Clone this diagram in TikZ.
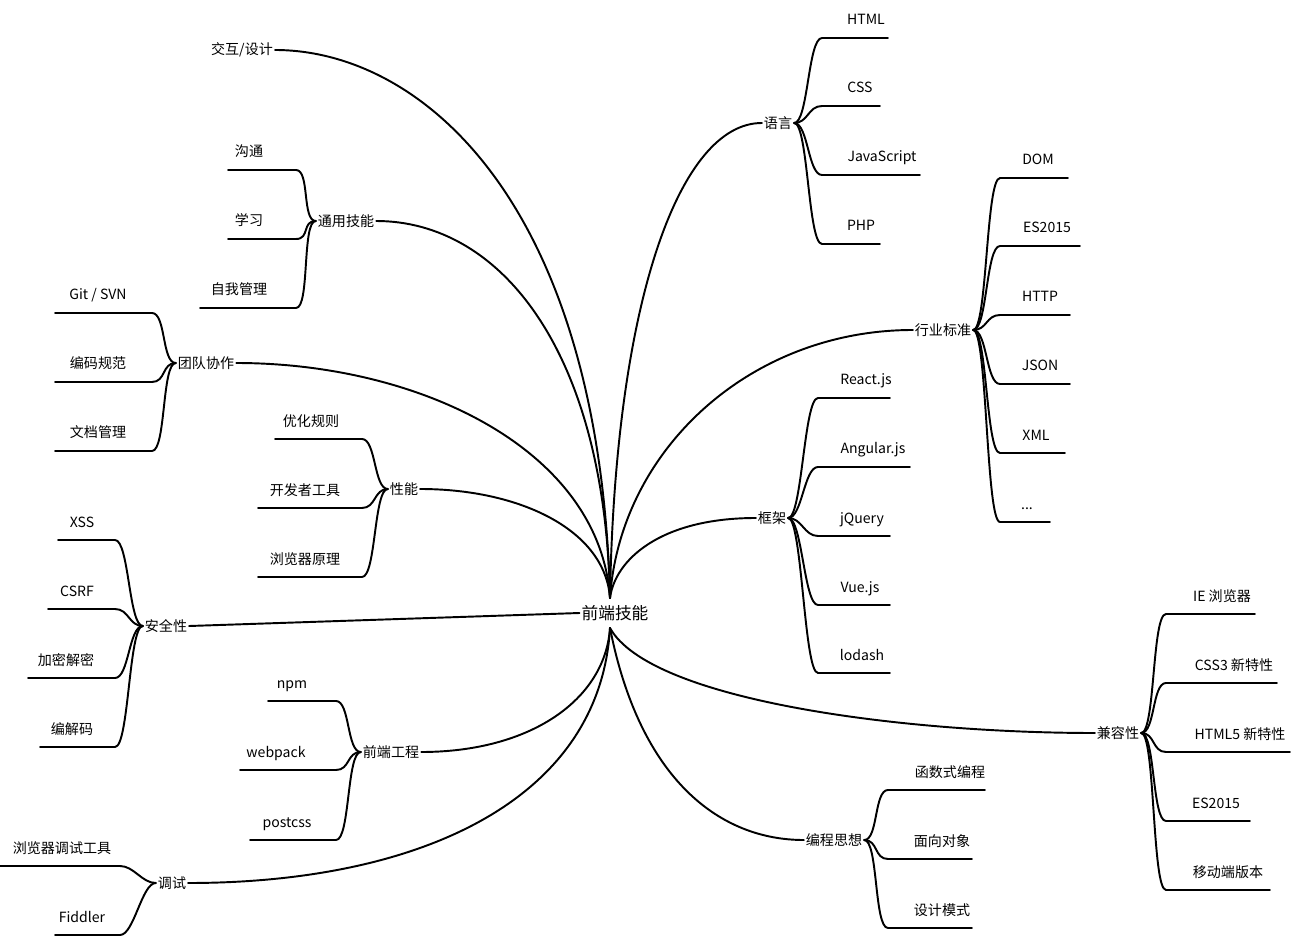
\documentclass[tikz,border=0pt]{standalone}
\usepackage{fontspec}
\setmainfont{Noto Sans CJK SC}
\newcommand\mydots{...}
\newcommand\gitsvn{Git / SVN}
\begin{document}
\begin{tikzpicture}[x=0.02cm,y=-0.02cm,
  c/.style={anchor=base,inner sep=0pt,font=\fontsize{8}{9}\selectfont},
  p/.style={inner sep=1pt,font=\fontsize{8}{9}\selectfont},
  br/.style={line width=1.1pt,line cap=round},
  mc/.style={line width=1.1pt,line cap=round}]
\useasboundingbox (0,0) rectangle (1304,945);
\node[inner sep=1pt,font=\fontsize{9.5}{11}\selectfont] (root) at (615,613) {前端技能};
\coordinate (rt) at (610,598);
\coordinate (rb) at (610,628);
% ---------- right branches ----------
\node[p] (yy) at (778,123) {语言};
\foreach \i/\t/\tx/\y/\xe in {1/HTML/866/38/888,2/CSS/860/106/880,3/JavaScript/882/175/920,4/PHP/861/244/880}{
  \node[c] (yy\i) at (\tx,\y-13) {\t};
  \coordinate (yy\i s) at (822,\y); \coordinate (yy\i e) at (\xe,\y);
  \draw[br] (yy.east) .. controls +(14,0) and +(-14,0) .. (yy\i s) -- (yy\i e);
}
\node[p] (hy) at (943,330) {行业标准};
\foreach \i/\t/\tx/\y/\xe in {1/DOM/1038/178/1068,2/ES2015/1047/246/1080,3/HTTP/1040/315/1070,4/JSON/1040/384/1070,5/XML/1036/453/1065,6/\mydots/1027/522/1050}{
  \node[c] (hy\i) at (\tx,\y-13) {\t};
  \coordinate (hy\i s) at (1000,\y); \coordinate (hy\i e) at (\xe,\y);
  \draw[br] (hy.east) .. controls +(14,0) and +(-14,0) .. (hy\i s) -- (hy\i e);
}
\node[p] (kj) at (772,518) {框架};
\foreach \i/\t/\tx/\y/\xe in {1/React.js/866/398/890,2/Angular.js/873/467/910,3/jQuery/862/536/890,4/Vue.js/860/605/890,5/lodash/862/673/890}{
  \node[c] (kj\i) at (\tx,\y-13) {\t};
  \coordinate (kj\i s) at (818,\y); \coordinate (kj\i e) at (\xe,\y);
  \draw[br] (kj.east) .. controls +(14,0) and +(-14,0) .. (kj\i s) -- (kj\i e);
}
\node[p] (jr) at (1118,733) {兼容性};
\foreach \i/\t/\tx/\y/\xe in {1/IE 浏览器/1222/614/1255,2/CSS3 新特性/1234/683/1277,3/HTML5 新特性/1240/752/1290,4/ES2015/1216/821/1250,5/移动端版本/1228/890/1270}{
  \node[c] (jr\i) at (\tx,\y-13) {\t};
  \coordinate (jr\i s) at (1166,\y); \coordinate (jr\i e) at (\xe,\y);
  \draw[br] (jr.east) .. controls +(14,0) and +(-14,0) .. (jr\i s) -- (jr\i e);
}
\node[p] (bc) at (834,840) {编程思想};
\foreach \i/\t/\tx/\y/\xe in {1/函数式编程/950/790/985,2/面向对象/942/859/972,3/设计模式/942/928/972}{
  \node[c] (bc\i) at (\tx,\y-13) {\t};
  \coordinate (bc\i s) at (888,\y); \coordinate (bc\i e) at (\xe,\y);
  \draw[br] (bc.east) .. controls +(14,0) and +(-14,0) .. (bc\i s) -- (bc\i e);
}
% ---------- left branches ----------
\node[p] (jh) at (242,50) {交互/设计};
\node[p] (ty) at (346,221) {通用技能};
\foreach \i/\t/\tx/\y/\xs in {1/沟通/249/170/228,2/学习/249/239/228,3/自我管理/239/308/200}{
  \node[c] (ty\i) at (\tx,\y-13) {\t};
  \coordinate (ty\i s) at (296,\y); \coordinate (ty\i e) at (\xs,\y);
  \draw[br] (ty.west) .. controls +(-14,0) and +(14,0) .. (ty\i s) -- (ty\i e);
}
\node[p] (td) at (206,363) {团队协作};
\foreach \i/\t/\tx/\y/\xs in {1/\gitsvn/98/313/55,2/编码规范/98/382/55,3/文档管理/98/451/55}{
  \node[c] (td\i) at (\tx,\y-13) {\t};
  \coordinate (td\i s) at (152,\y); \coordinate (td\i e) at (\xs,\y);
  \draw[br] (td.west) .. controls +(-14,0) and +(14,0) .. (td\i s) -- (td\i e);
}
\node[p] (xn) at (404,489) {性能};
\foreach \i/\t/\tx/\y/\xs in {1/优化规则/311/439/275,2/开发者工具/305/508/258,3/浏览器原理/305/577/258}{
  \node[c] (xn\i) at (\tx,\y-13) {\t};
  \coordinate (xn\i s) at (362,\y); \coordinate (xn\i e) at (\xs,\y);
  \draw[br] (xn.west) .. controls +(-14,0) and +(14,0) .. (xn\i s) -- (xn\i e);
}
\node[p] (aq) at (166,626) {安全性};
\foreach \i/\t/\tx/\y/\xs in {1/XSS/82/540/58,2/CSRF/77/609/48,3/加密解密/66/678/28,4/编解码/72/747/40}{
  \node[c] (aq\i) at (\tx,\y-13) {\t};
  \coordinate (aq\i s) at (115,\y); \coordinate (aq\i e) at (\xs,\y);
  \draw[br] (aq.west) .. controls +(-14,0) and +(14,0) .. (aq\i s) -- (aq\i e);
}
\node[p] (gc) at (391,752) {前端工程};
\foreach \i/\t/\tx/\y/\xs in {1/npm/292/701/268,2/webpack/276/770/240,3/postcss/287/840/250}{
  \node[c] (gc\i) at (\tx,\y-13) {\t};
  \coordinate (gc\i s) at (336,\y); \coordinate (gc\i e) at (\xs,\y);
  \draw[br] (gc.west) .. controls +(-14,0) and +(14,0) .. (gc\i s) -- (gc\i e);
}
\node[p] (ts) at (172,883) {调试};
\foreach \i/\t/\tx/\y/\xs in {1/浏览器调试工具/62/866/0,2/Fiddler/82/935/55}{
  \node[c] (ts\i) at (\tx,\y-13) {\t};
  \coordinate (ts\i s) at (120,\y); \coordinate (ts\i e) at (\xs,\y);
  \draw[br] (ts.west) .. controls +(-14,0) and +(14,0) .. (ts\i s) -- (ts\i e);
}
% ---------- main connectors ----------
\draw[mc] (rt) .. controls (600,200) and (420,50) .. (jh.east);
\draw[mc] (rt) .. controls (605,350) and (500,221) .. (ty.east);
\draw[mc] (rt) .. controls (600,450) and (420,363) .. (td.east);
\draw[mc] (rt) .. controls (605,530) and (520,489) .. (xn.east);
\draw[mc] (root.west) -- (aq.east);
\draw[mc] (rb) .. controls (605,700) and (530,752) .. (gc.east);
\draw[mc] (rb) .. controls (600,800) and (420,883) .. (ts.east);
\draw[mc] (rt) .. controls (615,300) and (680,123) .. (yy.west);
\draw[mc] (rt) .. controls (620,450) and (750,330) .. (hy.west);
\draw[mc] (rt) .. controls (615,560) and (660,518) .. (kj.west);
\draw[mc] (rb) .. controls (650,700) and (900,733) .. (jr.west);
\draw[mc] (rb) .. controls (640,780) and (720,840) .. (bc.west);
\end{tikzpicture}
\end{document}
